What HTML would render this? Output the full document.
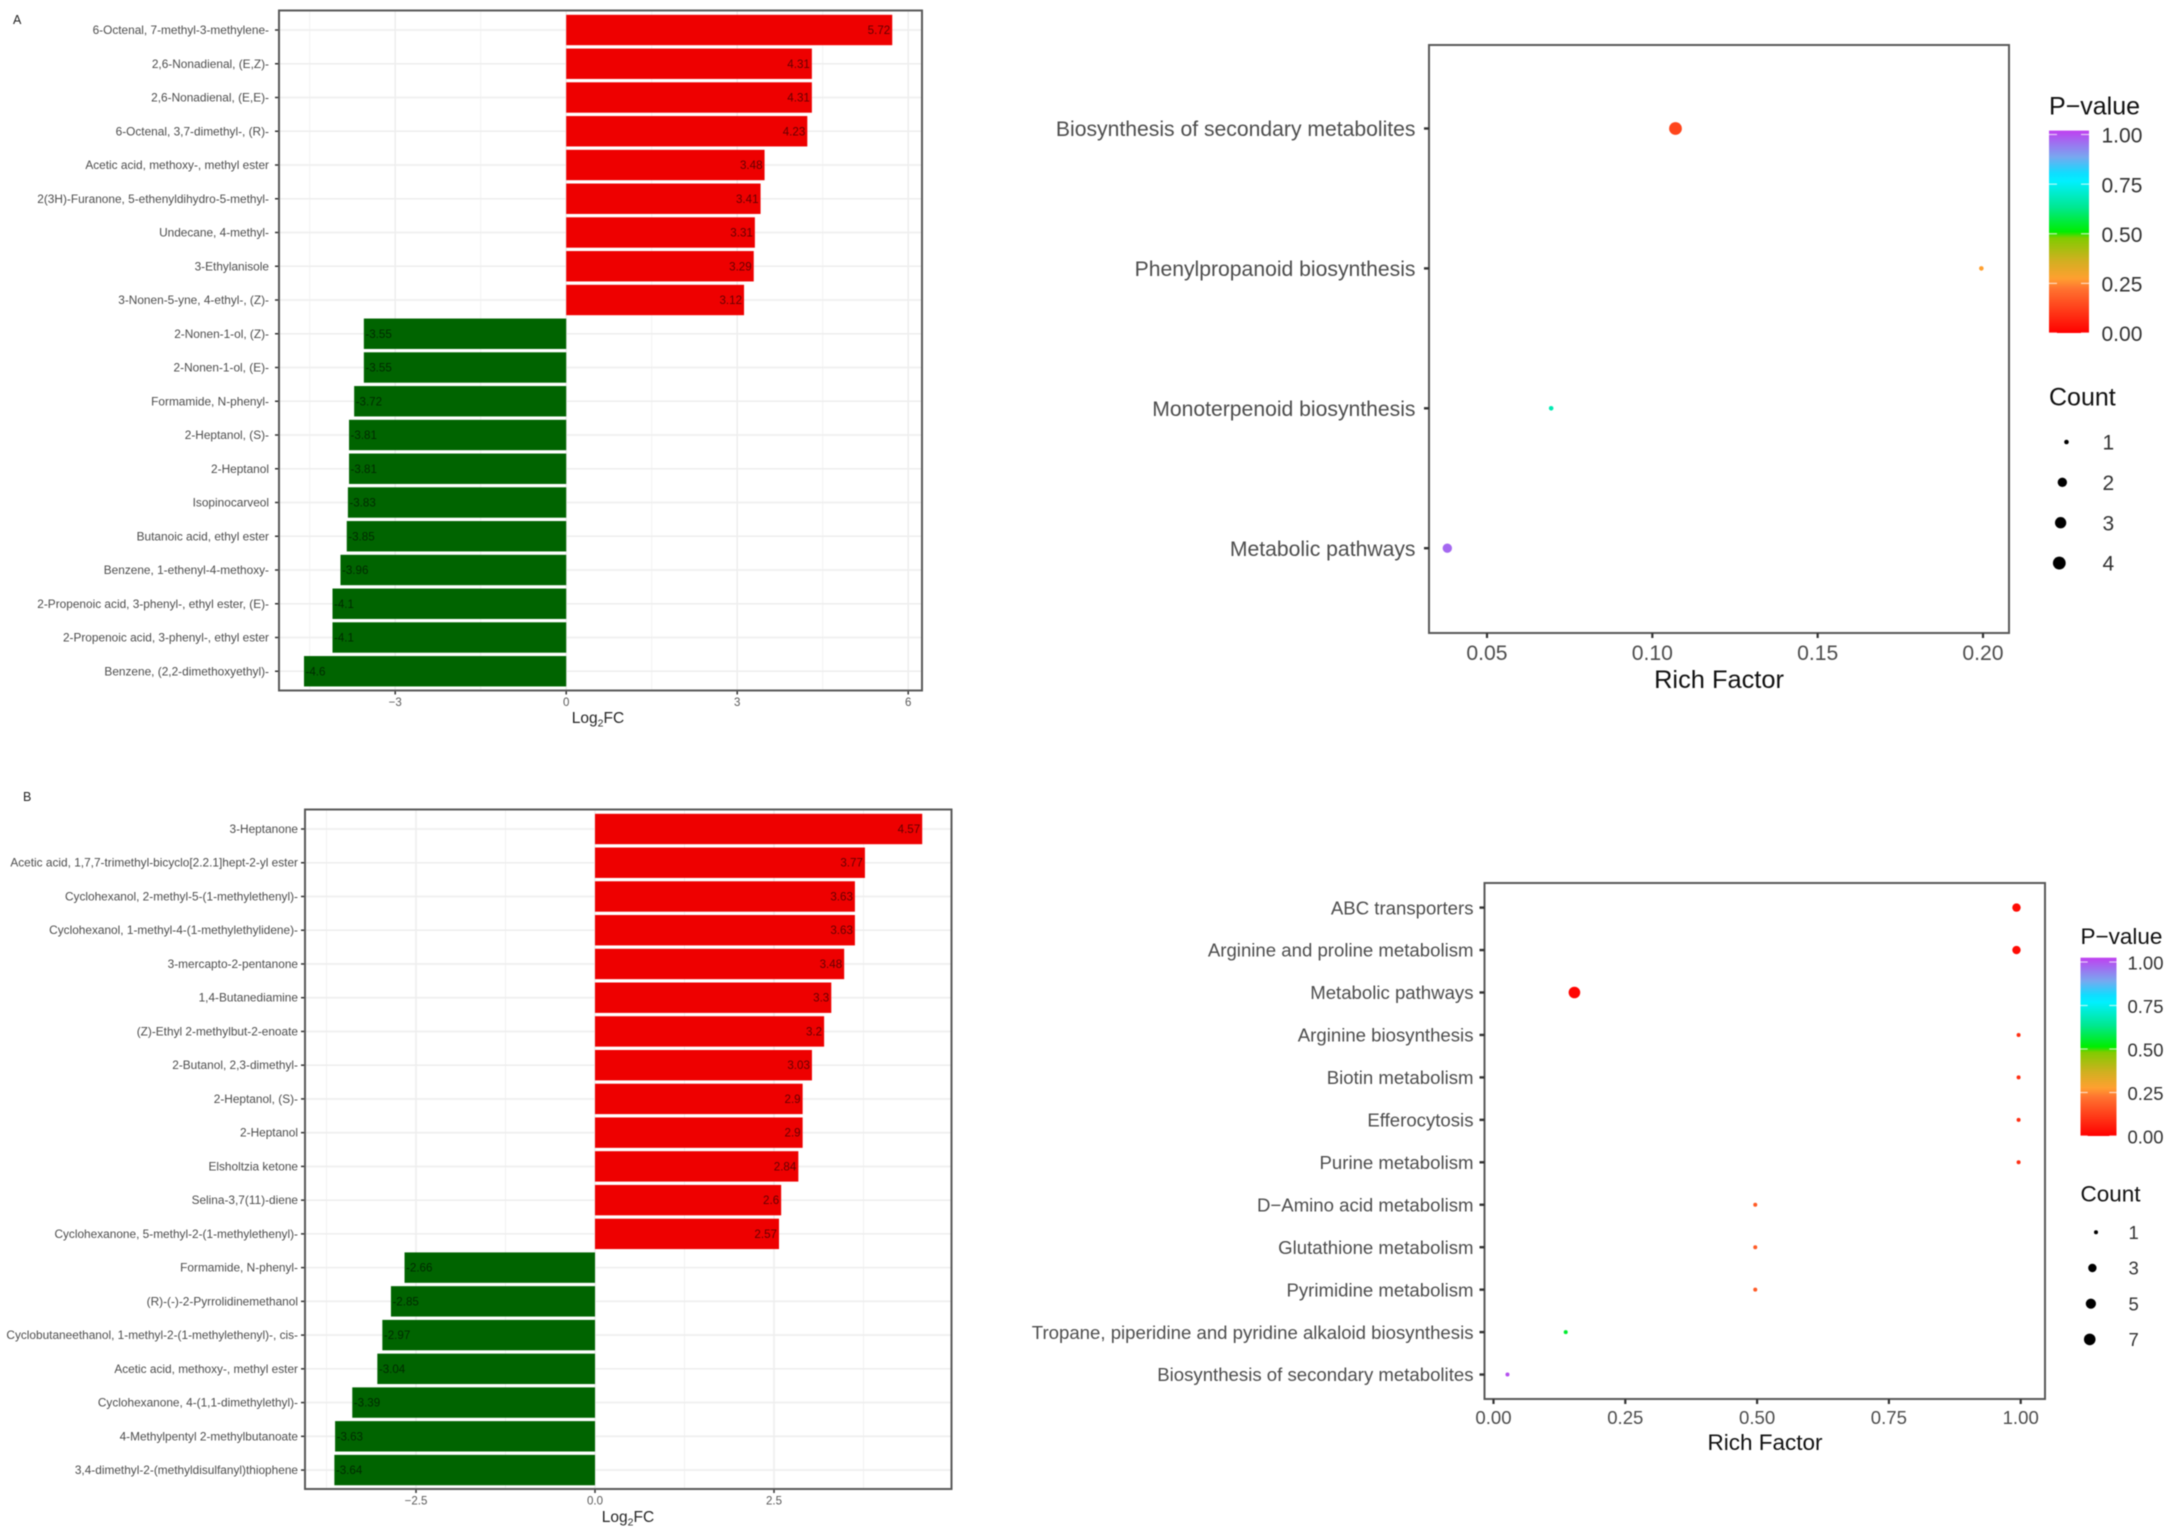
<!DOCTYPE html>
<html lang="en">
<head>
<meta charset="utf-8">
<title>Log2FC bar charts and KEGG enrichment bubble charts</title>
<style>
html,body{margin:0;padding:0;background:#fff;width:2173px;height:1533px;overflow:hidden}
svg{display:block;filter:blur(.6px)}
text{font-family:"Liberation Sans",Arial,sans-serif}
</style>
</head>
<body>
<svg id="figure" xmlns="http://www.w3.org/2000/svg" width="2173" height="1533" viewBox="0 0 2173 1533">
  <rect x="0" y="0" width="2173" height="1533" fill="#fff"/>
  <defs id="defs"></defs>
  <text x="13" y="24" font-size="12.5" fill="#222">A</text>
  <text x="23" y="801" font-size="12.5" fill="#222">B</text>
  <g id="barA"></g>
  <g id="dotA"></g>
  <g id="barB"></g>
  <g id="dotB"></g>
</svg>
<script>
/* ---------- Panel A bar chart data ---------- */
const barACategories = ["6-Octenal, 7-methyl-3-methylene-","2,6-Nonadienal, (E,Z)-","2,6-Nonadienal, (E,E)-","6-Octenal, 3,7-dimethyl-, (R)-","Acetic acid, methoxy-, methyl ester","2(3H)-Furanone, 5-ethenyldihydro-5-methyl-","Undecane, 4-methyl-","3-Ethylanisole","3-Nonen-5-yne, 4-ethyl-, (Z)-","2-Nonen-1-ol, (Z)-","2-Nonen-1-ol, (E)-","Formamide, N-phenyl-","2-Heptanol, (S)-","2-Heptanol","Isopinocarveol","Butanoic acid, ethyl ester","Benzene, 1-ethenyl-4-methoxy-","2-Propenoic acid, 3-phenyl-, ethyl ester, (E)-","2-Propenoic acid, 3-phenyl-, ethyl ester","Benzene, (2,2-dimethoxyethyl)-"];
const barAValues = [5.72,4.31,4.31,4.23,3.48,3.41,3.31,3.29,3.12,-3.55,-3.55,-3.72,-3.81,-3.81,-3.83,-3.85,-3.96,-4.1,-4.1,-4.6];
const barATicks = [-3,0,3,6];
const barATickLabels = ["\u22123","0","3","6"];
const barAMinorTicks = [-4.5,-1.5,1.5,4.5];

/* ---------- Panel B bar chart data ---------- */
const barBCategories = ["3-Heptanone","Acetic acid, 1,7,7-trimethyl-bicyclo[2.2.1]hept-2-yl ester","Cyclohexanol, 2-methyl-5-(1-methylethenyl)-","Cyclohexanol, 1-methyl-4-(1-methylethylidene)-","3-mercapto-2-pentanone","1,4-Butanediamine","(Z)-Ethyl 2-methylbut-2-enoate","2-Butanol, 2,3-dimethyl-","2-Heptanol, (S)-","2-Heptanol","Elsholtzia ketone","Selina-3,7(11)-diene","Cyclohexanone, 5-methyl-2-(1-methylethenyl)-","Formamide, N-phenyl-","(R)-(-)-2-Pyrrolidinemethanol","Cyclobutaneethanol, 1-methyl-2-(1-methylethenyl)-, cis-","Acetic acid, methoxy-, methyl ester","Cyclohexanone, 4-(1,1-dimethylethyl)-","4-Methylpentyl 2-methylbutanoate","3,4-dimethyl-2-(methyldisulfanyl)thiophene"];
const barBValues = [4.57,3.77,3.63,3.63,3.48,3.3,3.2,3.03,2.9,2.9,2.84,2.6,2.57,-2.66,-2.85,-2.97,-3.04,-3.39,-3.63,-3.64];
const barBTicks = [-2.5,0,2.5];
const barBTickLabels = ["\u22122.5","0.0","2.5"];
const barBMinorTicks = [-3.75,-1.25,1.25,3.75];

/* ---------- Panel A bubble chart data ---------- */
const dotAPathways = ["Biosynthesis of secondary metabolites","Phenylpropanoid biosynthesis","Monoterpenoid biosynthesis","Metabolic pathways"];
const dotARichFactor = [0.107,0.1995,0.0694,0.038];
const dotAPValue = [0.13,0.27,0.66,0.95];
const dotACount = [4,1,1,2];
const dotATicks = [0.05,0.10,0.15,0.20];
const dotATickLabels = ["0.05","0.10","0.15","0.20"];
const dotALegendCounts = [1,2,3,4];

/* ---------- Panel B bubble chart data ---------- */
const dotBPathways = ["ABC transporters","Arginine and proline metabolism","Metabolic pathways","Arginine biosynthesis","Biotin metabolism","Efferocytosis","Purine metabolism","D\u2212Amino acid metabolism","Glutathione metabolism","Pyrimidine metabolism","Tropane, piperidine and pyridine alkaloid biosynthesis","Biosynthesis of secondary metabolites"];
const dotBRichFactor = [0.992,0.992,0.1535,0.996,0.996,0.996,0.996,0.4965,0.4965,0.4965,0.137,0.0265];
const dotBPValue = [0.02,0.02,0.01,0.09,0.09,0.09,0.09,0.17,0.17,0.17,0.54,0.98];
const dotBCount = [3,3,7,1,1,1,1,1,1,1,1,1];
const dotBTicks = [0,0.25,0.5,0.75,1];
const dotBTickLabels = ["0.00","0.25","0.50","0.75","1.00"];
const dotBLegendCounts = [1,3,5,7];

/* ---------- Shared colour scale legend ---------- */
const pLegendTicks = [1,0.75,0.5,0.25,0];
const pLegendLabels = ["1.00","0.75","0.50","0.25","0.00"];
const pStopValues = [0,0.22,0.27,0.36,0.47,0.5,0.62,0.75,0.79,0.87,1];
const pStopColors = ["#ff0000","#ff7430","#ffa030","#d0b020","#80cc00","#00ee00","#00e890","#00f0ff","#10ddff","#78a8f0","#c040f0"];

const SVGNS = "http://www.w3.org/2000/svg";
function make(tag, parent, attrs, content) {
  const el = document.createElementNS(SVGNS, tag);
  for (const k in attrs) el.setAttribute(k, attrs[k]);
  if (content !== undefined) el.textContent = content;
  parent.appendChild(el);
  return el;
}
function linear(d0, d1, r0, r1) {
  return v => r0 + (v - d0) * (r1 - r0) / (d1 - d0);
}
function hexToRgb(h) {
  return [1, 3, 5].map(i => parseInt(h.substr(i, 2), 16));
}
function pColor(p) {
  let i = 0;
  while (i < pStopValues.length - 2 && p > pStopValues[i + 1]) i++;
  const t = Math.max(0, Math.min(1, (p - pStopValues[i]) / (pStopValues[i + 1] - pStopValues[i])));
  const a = hexToRgb(pStopColors[i]);
  const b = hexToRgb(pStopColors[i + 1]);
  return "rgb(" + a.map((c, j) => Math.round(c + (b[j] - c) * t)).join(",") + ")";
}

/* gradient built from the colour stops */
const defs = document.getElementById("defs");
const gradient = make("linearGradient", defs, { id: "pGradient", x1: 0, y1: 1, x2: 0, y2: 0 });
pStopValues.forEach((v, i) => {
  make("stop", gradient, { offset: v, "stop-color": pStopColors[i] });
});

function drawBarChart(root, o) {
  const x = linear(0, 1, o.zero, o.zero + o.unit);
  const y = i => o.firstRow + i * o.rowStep;
  const bg = make("rect", root, { x: o.left, y: o.top, width: o.right - o.left, height: o.bottom - o.top, fill: "#fff" });
  
  

  o.minor.forEach(v => {
    const g = make("line", root, { x1: x(v), x2: x(v), y1: o.top, y2: o.bottom, stroke: "#f2f2f2", "stroke-width": 1 });
    
    
  });
  o.ticks.forEach(v => {
    const g = make("line", root, { x1: x(v), x2: x(v), y1: o.top, y2: o.bottom, stroke: "#eeeeee", "stroke-width": 1.6 });
    
    
  });
  o.categories.forEach((c, i) => {
    const g = make("line", root, { x1: o.left, x2: o.right, y1: y(i), y2: y(i), stroke: "#eeeeee", "stroke-width": 1.6 });
    
    
  });

  o.values.forEach((v, i) => {
    const x0 = Math.min(x(0), x(v));
    const w = Math.abs(x(v) - x(0));
    const bar = make("rect", root, { x: x0, y: y(i) - o.barHeight / 2, width: w, height: o.barHeight, fill: v >= 0 ? "#ee0000" : "#006400" });
    
    
  });
  o.values.forEach((v, i) => {
    const t = make("text", root, {
      x: v >= 0 ? x(v) - 2 : x(v) + 1.5,
      y: y(i) + 4,
      "font-size": 11.6,
      "text-anchor": v >= 0 ? "end" : "start",
      fill: "#000",
      "fill-opacity": 0.58
    }, String(v));
    
    
  });

  o.categories.forEach((c, i) => {
    const tick = make("line", root, { x1: o.left - 4, x2: o.left, y1: y(i), y2: y(i), stroke: "#333", "stroke-width": 1.5 });
    
    
    const t = make("text", root, { x: o.labelX, y: y(i) + 4, "font-size": o.labelSize, "text-anchor": "end", fill: "#4d4d4d" }, c);
    
    
  });
  o.ticks.forEach((v, i) => {
    const tick = make("line", root, { x1: x(v), x2: x(v), y1: o.bottom, y2: o.bottom + 4, stroke: "#333", "stroke-width": 1.5 });
    
    
    const t = make("text", root, { x: x(v), y: o.bottom + 15.5, "font-size": 11.5, "text-anchor": "middle", fill: "#5a5a5a" }, o.tickLabels[i]);
    
    
  });

  const border = make("rect", root, { x: o.left, y: o.top, width: o.right - o.left, height: o.bottom - o.top, fill: "none", stroke: "#5a5a5a", "stroke-width": 2 });
  
  

  const title = make("text", root, { x: o.titleX, y: o.titleY, "font-size": 15.5, "text-anchor": "middle", fill: "#262626" });
  
  
  make("tspan", title, {}, "Log");
  make("tspan", title, { "font-size": 10.5, dy: 3.5 }, "2");
  make("tspan", title, { dy: -3.5 }, "FC");
}

function drawBubbleChart(root, o) {
  const x = linear(o.d0, o.d1, o.r0, o.r1);
  const y = i => o.firstRow + i * o.rowStep;
  const radius = c => o.rMin + (o.rMax - o.rMin) * Math.sqrt((c - 1) / (o.maxCount - 1));

  const border = make("rect", root, { x: o.left, y: o.top, width: o.right - o.left, height: o.bottom - o.top, fill: "#fff", stroke: "#5a5a5a", "stroke-width": 2 });
  
  

  o.pathways.forEach((p, i) => {
    const tick = make("line", root, { x1: o.left - 5, x2: o.left, y1: y(i), y2: y(i), stroke: "#333", "stroke-width": 2.4 });
    
    
    const t = make("text", root, { x: o.labelX, y: y(i) + o.axisSize * 0.36, "font-size": o.axisSize, "text-anchor": "end", fill: "#4d4d4d" }, p);
    
    
  });
  o.ticks.forEach((v, i) => {
    const tick = make("line", root, { x1: x(v), x2: x(v), y1: o.bottom, y2: o.bottom + 5, stroke: "#333", "stroke-width": 2.2 });
    
    
    const t = make("text", root, { x: x(v), y: o.tickLabelY, "font-size": o.axisSize, "text-anchor": "middle", fill: "#4d4d4d" }, o.tickLabels[i]);
    
    
  });

  o.rich.forEach((v, i) => {
    const c = make("circle", root, { cx: x(v), cy: y(i), r: radius(o.count[i]), fill: pColor(o.pval[i]) });
    
    
  });

  const xTitle = make("text", root, { x: o.titleX, y: o.titleY, "font-size": o.xTitleSize, "text-anchor": "middle", fill: "#111" }, "Rich Factor");
  
  

  /* colour legend */
  const pTitle = make("text", root, { x: o.legX, y: o.pTitleY, "font-size": o.titleSize, fill: "#111" }, "P\u2212value");
  
  
  const bar = make("rect", root, { x: o.legX, y: o.barTop, width: o.barW, height: o.barBottom - o.barTop, fill: "url(#pGradient)" });
  
  
  const py = linear(0, 1, o.barZeroY, o.barOneY);
  pLegendTicks.forEach((v, i) => {
    const left = make("line", root, { x1: o.legX, x2: o.legX + o.barW / 5, y1: py(v), y2: py(v), stroke: "#fff", "stroke-opacity": 0.7, "stroke-width": 1.2 });
    
    
    const right = make("line", root, { x1: o.legX + o.barW * 0.8, x2: o.legX + o.barW, y1: py(v), y2: py(v), stroke: "#fff", "stroke-opacity": 0.7, "stroke-width": 1.2 });
    
    
    const t = make("text", root, { x: o.legLabelX, y: py(v) + o.legSize * 0.36 + 0.6, "font-size": o.legSize, fill: "#333" }, pLegendLabels[i]);
    
    
  });

  /* size legend */
  const cTitle = make("text", root, { x: o.legX, y: o.cTitleY, "font-size": o.titleSize, fill: "#111" }, "Count");
  
  
  o.legendCounts.forEach((c, i) => {
    const ly = o.legFirstY + i * o.legStep;
    const r = radius(c);
    const dot = make("circle", root, { cx: o.legDotX - o.legDotShift * r, cy: ly, r: r, fill: "#000" });
    
    
    const t = make("text", root, { x: o.legLabelX + 1, y: ly + o.legSize * 0.36, "font-size": o.legSize, fill: "#333" }, String(c));
    
    
  });
}

drawBarChart(document.getElementById("barA"), {
  categories: barACategories, values: barAValues, ticks: barATicks, tickLabels: barATickLabels, minor: barAMinorTicks,
  left: 279, right: 922, top: 10.5, bottom: 690.5, zero: 566.2, unit: 57,
  firstRow: 30, rowStep: 33.75, barHeight: 30.4, labelSize: 11.85, labelX: 269, titleX: 598, titleY: 723
});
drawBarChart(document.getElementById("barB"), {
  categories: barBCategories, values: barBValues, ticks: barBTicks, tickLabels: barBTickLabels, minor: barBMinorTicks,
  left: 305, right: 951.5, top: 809.5, bottom: 1489, zero: 595, unit: 71.6,
  firstRow: 829, rowStep: 33.74, barHeight: 30.4, labelSize: 11.85, labelX: 298, titleX: 628, titleY: 1522
});
drawBubbleChart(document.getElementById("dotA"), {
  pathways: dotAPathways, rich: dotARichFactor, pval: dotAPValue, count: dotACount, ticks: dotATicks, tickLabels: dotATickLabels, legendCounts: dotALegendCounts,
  left: 1429, right: 2009, top: 45, bottom: 633, labelX: 1415.5,
  d0: 0.05, d1: 0.20, r0: 1487, r1: 1983,
  firstRow: 128.5, rowStep: 139.9, rMin: 2.3, rMax: 6.4, maxCount: 4,
  axisSize: 21.15, titleSize: 25, xTitleSize: 25.4, tickLabelY: 660, titleX: 1719, titleY: 688,
  legX: 2049, pTitleY: 114.5, barW: 40, barTop: 130.6, barBottom: 333, barZeroY: 333, barOneY: 134.5,
  legLabelX: 2101.5, legSize: 21, cTitleY: 405.5, legFirstY: 442, legStep: 40.35, legDotX: 2070.5, legDotShift: 1.75
});
drawBubbleChart(document.getElementById("dotB"), {
  pathways: dotBPathways, rich: dotBRichFactor, pval: dotBPValue, count: dotBCount, ticks: dotBTicks, tickLabels: dotBTickLabels, legendCounts: dotBLegendCounts,
  left: 1484.5, right: 2045, top: 883, bottom: 1399, labelX: 1473.5,
  d0: 0, d1: 1, r0: 1493.5, r1: 2020.7,
  firstRow: 907.6, rowStep: 42.45, rMin: 2, rMax: 5.8, maxCount: 7,
  axisSize: 18.6, titleSize: 22.5, xTitleSize: 22.5, tickLabelY: 1424, titleX: 1765, titleY: 1450,
  legX: 2080.5, pTitleY: 944, barW: 36, barTop: 957.7, barBottom: 1136, barZeroY: 1136, barOneY: 962,
  legLabelX: 2127.5, legSize: 18.5, cTitleY: 1201.5, legFirstY: 1232.3, legStep: 35.7, legDotX: 2099.3, legDotShift: 1.65
});
</script>
</body>
</html>
